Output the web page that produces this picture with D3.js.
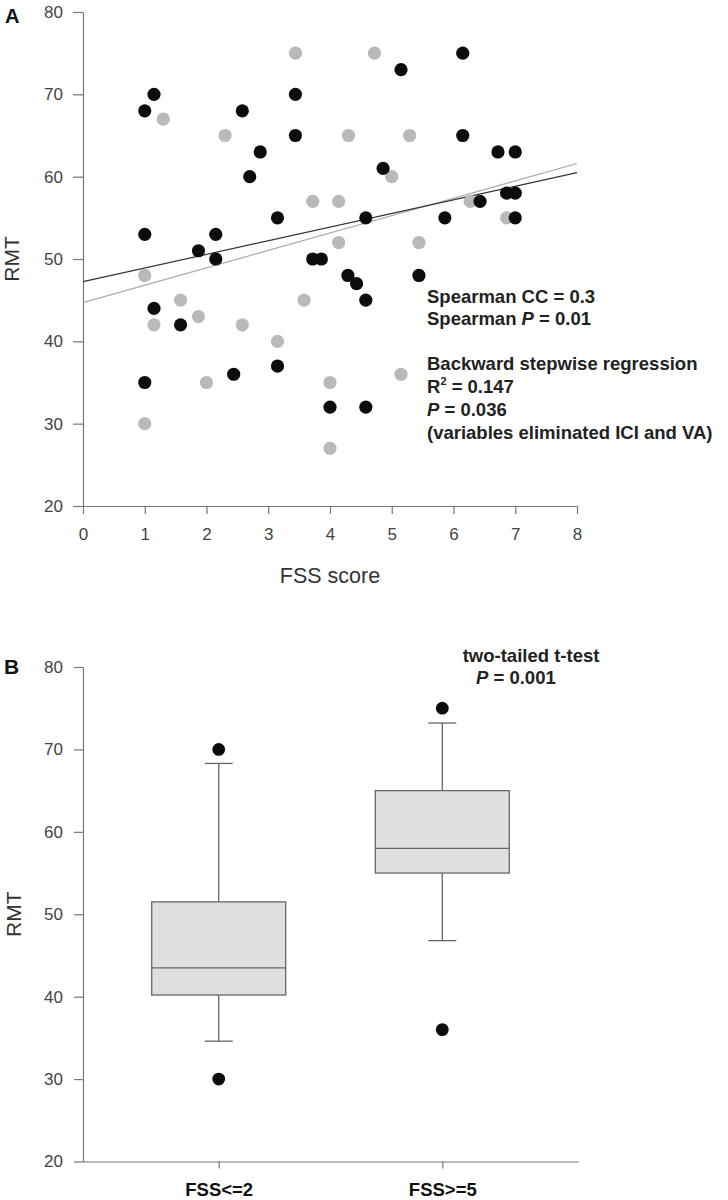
<!DOCTYPE html>
<html><head><meta charset="utf-8">
<script src="https://cdn.jsdelivr.net/npm/d3@7"></script>
<style>
body{margin:0;background:#fff}
svg{display:block}
text{font-family:"Liberation Sans",Arial,Helvetica,sans-serif}
</style>
</head><body>
<svg id="c" width="728" height="1200"></svg>
<script>
// ---- Panel A data (FSS score vs RMT) ----
const blackFSS = [1.15, 1.0, 2.58, 2.7, 1.0, 2.15, 1.87, 2.15, 6.15, 5.15, 3.44, 3.44, 6.15, 2.87, 4.86, 6.43, 3.15, 4.58, 5.86, 3.72, 3.86, 6.72, 7.0, 6.86, 7.0, 7.0, 1.15, 1.58, 1.0, 2.44, 4.29, 4.43, 5.44, 4.58, 3.15, 4.0, 4.58];
const blackRMT = [70, 68, 68, 60, 53, 53, 51, 50, 75, 73, 70, 65, 65, 63, 61, 57, 55, 55, 55, 50, 50, 63, 63, 58, 58, 55, 44, 42, 35, 36, 48, 47, 48, 45, 37, 32, 32];
const grayFSS = [1.3, 2.3, 3.44, 4.72, 4.3, 5.29, 5.0, 3.72, 4.14, 6.27, 4.14, 5.44, 6.86, 1.0, 1.58, 1.87, 1.15, 2.58, 2.0, 1.0, 3.58, 3.15, 5.15, 4.0, 4.0];
const grayRMT = [67, 65, 75, 75, 65, 65, 60, 57, 57, 57, 52, 52, 55, 48, 45, 43, 42, 42, 35, 30, 45, 40, 36, 35, 27];
const fitFSS = [0, 8];
const fitBlackRMT = [47.25, 60.5];
const fitGrayRMT = [44.7, 61.6];
const xTicksA = [0, 1, 2, 3, 4, 5, 6, 7, 8];
const yTicks = [20, 30, 40, 50, 60, 70, 80];

// ---- Panel B data (box plot) ----
const groups = ["FSS<=2", "FSS>=5"];
const boxQ1 = [40.2, 55.0];
const boxMedian = [43.5, 58.0];
const boxQ3 = [51.5, 65.0];
const whiskerLow = [34.6, 46.8];
const whiskerHigh = [68.3, 73.2];
const outlierGroup = ["FSS<=2", "FSS<=2", "FSS>=5", "FSS>=5"];
const outlierRMT = [70, 30, 75, 36];

const svg = d3.select("#c");
const axisColor = "#777";
const tickText = "#444";

function styleAxis(g, fs, weight, fill) {
  g.selectAll("path.domain").attr("stroke", axisColor).attr("stroke-width", 1.2);
  g.selectAll(".tick line").attr("stroke", axisColor).attr("stroke-width", 1.2);
  g.selectAll(".tick text").attr("font-size", fs).attr("font-weight", weight)
    .attr("fill", fill).attr("font-family", '"Liberation Sans",Arial,sans-serif');
}

// ================= Panel A =================
const xA = d3.scaleLinear().domain([0, 8]).range([83, 577]);
const yA = d3.scaleLinear().domain([20, 80]).range([506, 12]);

svg.append("g").attr("transform", "translate(83,0)")
  .call(d3.axisLeft(yA).tickValues(yTicks).tickSize(10).tickSizeOuter(0).tickPadding(10))
  .call(g => styleAxis(g, 17, "normal", tickText));

svg.append("g").attr("transform", "translate(0,506)")
  .call(d3.axisBottom(xA).tickValues(xTicksA).tickSize(8).tickSizeOuter(0).tickPadding(14))
  .call(g => styleAxis(g, 17, "normal", tickText));

// regression lines
const fitLine = d3.line().x(d => xA(d[0])).y(d => yA(d[1]));
svg.append("path").datum(fitFSS.map((f, i) => [f, fitGrayRMT[i]]))
  .attr("d", fitLine).attr("stroke", "#aaa").attr("stroke-width", 1.2).attr("fill", "none");
svg.append("path").datum(fitFSS.map((f, i) => [f, fitBlackRMT[i]]))
  .attr("d", fitLine).attr("stroke", "#333").attr("stroke-width", 1.2).attr("fill", "none");

// points
svg.append("g").selectAll("circle").data(grayFSS.map((f, i) => [f, grayRMT[i]])).join("circle")
  .attr("cx", d => xA(d[0])).attr("cy", d => yA(d[1])).attr("r", 6.6).attr("fill", "#b9b9b9");
svg.append("g").selectAll("circle").data(blackFSS.map((f, i) => [f, blackRMT[i]])).join("circle")
  .attr("cx", d => xA(d[0])).attr("cy", d => yA(d[1])).attr("r", 6.6).attr("fill", "#0c0c0c");

// labels
svg.append("text").attr("x", 5).attr("y", 22.5).attr("font-size", 20).attr("font-weight", "bold")
  .attr("fill", "#111").text("A");
svg.append("text").attr("x", 330).attr("y", 582.5).attr("text-anchor", "middle")
  .attr("font-size", 21.5).attr("fill", "#333").text("FSS score");
svg.append("text").attr("transform", `translate(19,${(yA(20) + yA(80)) / 2}) rotate(-90)`)
  .attr("text-anchor", "middle").attr("font-size", 21).attr("fill", "#333").text("RMT");

// annotation
const ann = svg.append("g").attr("font-size", 18.5).attr("font-weight", "bold").attr("fill", "#222");
const annX = 427;
ann.append("text").attr("x", annX).attr("y", 302.7).text("Spearman CC = 0.3");
const t2 = ann.append("text").attr("x", annX).attr("y", 325.3);
t2.append("tspan").text("Spearman ");
t2.append("tspan").attr("font-style", "italic").text("P");
t2.append("tspan").text(" = 0.01");
ann.append("text").attr("x", annX).attr("y", 369.5).text("Backward stepwise regression");
const t4 = ann.append("text").attr("x", annX).attr("y", 392.7);
t4.append("tspan").text("R");
t4.append("tspan").attr("font-size", 11).attr("dy", -8).text("2");
t4.append("tspan").attr("dy", 8).text(" = 0.147");
const t5 = ann.append("text").attr("x", annX).attr("y", 415.8);
t5.append("tspan").attr("font-style", "italic").text("P");
t5.append("tspan").text(" = 0.036");
ann.append("text").attr("x", annX).attr("y", 438.5).text("(variables eliminated ICI and VA)");

// ================= Panel B =================
const xB = d3.scalePoint().domain(groups).range([83, 578]).padding(0.607);
const yB = d3.scaleLinear().domain([20, 80]).range([1161.5, 667]);

svg.append("g").attr("transform", "translate(83,0)")
  .call(d3.axisLeft(yB).tickValues(yTicks).tickSize(9).tickSizeOuter(0).tickPadding(11))
  .call(g => styleAxis(g, 17, "normal", tickText));

svg.append("g").attr("transform", "translate(0,1161.5)")
  .call(d3.axisBottom(xB).tickSize(7).tickSizeOuter(0).tickPadding(14))
  .call(g => styleAxis(g, 18.5, "bold", "#111"));

const boxW = 134, capW = 28;
const boxes = groups.map((g, i) => ({g, q1: boxQ1[i], med: boxMedian[i], q3: boxQ3[i], lo: whiskerLow[i], hi: whiskerHigh[i]}));
const bg = svg.append("g").attr("stroke", "#666").attr("stroke-width", 1.3);
boxes.forEach(b => {
  const cx = xB(b.g);
  bg.append("line").attr("x1", cx).attr("x2", cx).attr("y1", yB(b.q3)).attr("y2", yB(b.hi));
  bg.append("line").attr("x1", cx).attr("x2", cx).attr("y1", yB(b.q1)).attr("y2", yB(b.lo));
  bg.append("line").attr("x1", cx - capW / 2).attr("x2", cx + capW / 2).attr("y1", yB(b.hi)).attr("y2", yB(b.hi));
  bg.append("line").attr("x1", cx - capW / 2).attr("x2", cx + capW / 2).attr("y1", yB(b.lo)).attr("y2", yB(b.lo));
  bg.append("rect").attr("x", cx - boxW / 2).attr("width", boxW)
    .attr("y", yB(b.q3)).attr("height", yB(b.q1) - yB(b.q3)).attr("fill", "#e0e0e0");
  bg.append("line").attr("x1", cx - boxW / 2).attr("x2", cx + boxW / 2).attr("y1", yB(b.med)).attr("y2", yB(b.med));
});

svg.append("g").selectAll("circle").data(outlierGroup.map((g, i) => [g, outlierRMT[i]])).join("circle")
  .attr("cx", d => xB(d[0])).attr("cy", d => yB(d[1])).attr("r", 6.4).attr("fill", "#0c0c0c");

svg.append("text").attr("x", 4).attr("y", 674).attr("font-size", 21).attr("font-weight", "bold")
  .attr("fill", "#111").text("B");
svg.append("text").attr("transform", `translate(21,${(yB(20) + yB(80)) / 2}) rotate(-90)`)
  .attr("text-anchor", "middle").attr("font-size", 21).attr("fill", "#333").text("RMT");

const annB = svg.append("g").attr("font-size", 18.5).attr("font-weight", "bold").attr("fill", "#222");
annB.append("text").attr("x", 462.7).attr("y", 661.5).text("two-tailed t-test");
const tb = annB.append("text").attr("x", 476).attr("y", 683.5);
tb.append("tspan").attr("font-style", "italic").text("P");
tb.append("tspan").text(" = 0.001");
</script>
</body></html>
